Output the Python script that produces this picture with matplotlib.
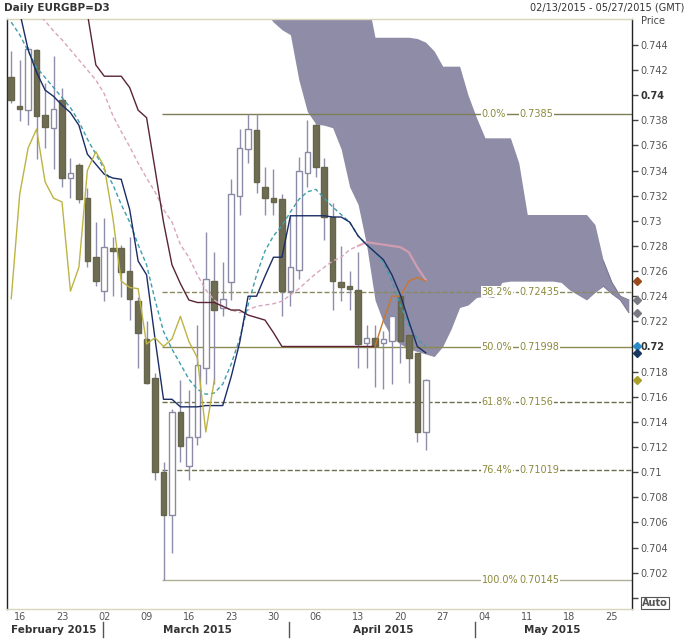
import matplotlib
matplotlib.use("Agg")
import matplotlib.pyplot as plt
import matplotlib.transforms as mtransforms
from matplotlib.patches import Rectangle
import numpy as np

# daily candles, one per trading day starting 02/13/2015 (index 0)
opens = [0.7414, 0.7391, 0.7388, 0.7436, 0.7384, 0.7374, 0.7396, 0.7334, 0.7344, 0.7318,
         0.7271, 0.7244, 0.7278, 0.7278, 0.7260, 0.7236, 0.7206, 0.7175, 0.7100, 0.7066,
         0.7148, 0.7105, 0.7128, 0.7183, 0.7252, 0.7231, 0.7251, 0.7320, 0.7357, 0.7372,
         0.7327, 0.7318, 0.7317, 0.7244, 0.7261, 0.7338, 0.7376, 0.7343, 0.7303, 0.7251,
         0.7248, 0.7245, 0.7203, 0.7207, 0.7203, 0.7204, 0.7240, 0.7209, 0.7195, 0.7132]
highs = [0.7435, 0.7428, 0.7438, 0.7437, 0.7410, 0.7431, 0.7406, 0.7350, 0.7346, 0.7326,
         0.7299, 0.7302, 0.7287, 0.7281, 0.7287, 0.7239, 0.7220, 0.7179, 0.7108, 0.7150,
         0.7173, 0.7165, 0.7217, 0.7291, 0.7275, 0.7267, 0.7333, 0.7373, 0.7385, 0.7385,
         0.7343, 0.7341, 0.7321, 0.7305, 0.7351, 0.7380, 0.7378, 0.7350, 0.7314, 0.7280,
         0.7260, 0.7275, 0.7217, 0.7217, 0.7212, 0.7230, 0.7244, 0.7209, 0.7195, 0.7174]
lows = [0.7394, 0.7379, 0.7376, 0.7349, 0.7358, 0.7341, 0.7327, 0.7318, 0.7314, 0.7263,
        0.7248, 0.7236, 0.7240, 0.7239, 0.7221, 0.7183, 0.7170, 0.7094, 0.70145, 0.7036,
        0.7108, 0.7094, 0.7122, 0.7170, 0.7170, 0.7224, 0.7237, 0.7305, 0.7346, 0.7322,
        0.7305, 0.7305, 0.7224, 0.7232, 0.7254, 0.7327, 0.7335, 0.7285, 0.7229, 0.7236,
        0.7229, 0.7183, 0.7183, 0.7168, 0.7166, 0.7170, 0.7187, 0.7171, 0.7124, 0.7118]
closes = [0.7396, 0.7389, 0.7437, 0.7383, 0.7375, 0.7389, 0.7334, 0.7338, 0.7317, 0.7268,
          0.7252, 0.7279, 0.7276, 0.7259, 0.7238, 0.7211, 0.7171, 0.7100, 0.7066, 0.7148,
          0.7121, 0.7128, 0.7185, 0.7254, 0.7229, 0.7238, 0.7321, 0.7358, 0.7373, 0.7331,
          0.7318, 0.7315, 0.7244, 0.7263, 0.7340, 0.7355, 0.7343, 0.7303, 0.7252, 0.7247,
          0.7246, 0.7202, 0.7207, 0.7200, 0.7206, 0.7224, 0.7204, 0.7191, 0.7132, 0.7173]

# indicator lines
tenkan = [0.7490, 0.7466, 0.7436, 0.7418, 0.7404, 0.7399, 0.7392, 0.7386, 0.7376, 0.7353,
          0.7345, 0.7337, 0.7334, 0.7333, 0.7309, 0.7268, 0.7257, 0.7206, 0.7158, 0.7158,
          0.7152, 0.7152, 0.7152, 0.7153, 0.7153, 0.7153, 0.7176, 0.7203, 0.7240, 0.7240,
          0.7256, 0.7271, 0.7271, 0.7304, 0.7304, 0.7304, 0.7304, 0.7304, 0.7303, 0.7303,
          0.7299, 0.7288, 0.7281, 0.7275, 0.7269, 0.7257, 0.7241, 0.7220, 0.7200, 0.7195]
ma_fast = [0.7458, 0.7448, 0.7435, 0.7422, 0.7414, 0.7406, 0.7398, 0.7390, 0.7379, 0.7365,
           0.7353, 0.7341, 0.7329, 0.7313, 0.7299, 0.7281, 0.7265, 0.7237, 0.7212, 0.7198,
           0.7186, 0.7174, 0.7166, 0.7162, 0.7163, 0.7170, 0.7186, 0.7206, 0.7233, 0.7257,
           0.7276, 0.7288, 0.7296, 0.7307, 0.7317, 0.7323, 0.7325, 0.7318, 0.7311, 0.7305,
           0.7299, 0.7288, 0.7281, 0.7275, 0.7267, 0.7252, 0.7233, 0.7217, 0.7206, 0.7200]
ma_slow = [0.7485, 0.7478, 0.7470, 0.7465, 0.7459, 0.7451, 0.7444, 0.7436, 0.7428, 0.7420,
           0.7412, 0.7401, 0.7384, 0.7371, 0.7359, 0.7346, 0.7334, 0.7323, 0.7309, 0.7299,
           0.7281, 0.7271, 0.7257, 0.7245, 0.7237, 0.7232, 0.7229, 0.7227, 0.7229, 0.7232,
           0.7233, 0.7234, 0.7236, 0.7241, 0.7246, 0.7252, 0.7258, 0.7263, 0.7268, 0.7271,
           0.7277, 0.7280, 0.7283, 0.7282, 0.7281, 0.7280, 0.7279, 0.7275, 0.7263, 0.7253]
kijun_start = 8
kijun = [0.7480, 0.7465, 0.7424, 0.7415, 0.7415, 0.7415, 0.7406, 0.7388, 0.7382, 0.7341,
         0.7299, 0.7265, 0.7250, 0.7237, 0.7235, 0.7235, 0.7235, 0.7232, 0.7229, 0.7229,
         0.7225, 0.7223, 0.7221, 0.7211, 0.7200, 0.7200, 0.7200, 0.7200, 0.7200, 0.7200,
         0.7200, 0.7200, 0.7200, 0.7200, 0.7200, 0.7200, 0.7221, 0.7240, 0.7240, 0.7252,
         0.7255, 0.7252]
kijun_turn = 43
chikou_lag = 25

# cloud, projected forward
cloud_start = 30
span_a = [0.7480] * 13 + [0.7446] * 5 + [0.7445, 0.7442, 0.7435] + [0.7423] * 3 + \
         [0.7400, 0.7382] + [0.7366] * 4 + [0.7346] + [0.7305] * 8 + \
         [0.7297, 0.7268, 0.7251, 0.7240, 0.7237]
span_b = [0.7466, 0.7458, 0.7452, 0.7448, 0.7412, 0.7387, 0.7377, 0.7376, 0.7374, 0.7357,
          0.7327, 0.7313, 0.7281, 0.7237, 0.7219, 0.7207, 0.7202, 0.7198, 0.7196, 0.7194,
          0.7192, 0.7200, 0.7214, 0.7231, 0.7233, 0.7239, 0.7240, 0.7239, 0.7251, 0.7252,
          0.7252, 0.7252, 0.7252, 0.7252, 0.7252, 0.7251, 0.7245, 0.7241, 0.7237, 0.7243,
          0.7248, 0.7242, 0.7237, 0.7227]

# fibonacci retracement from the low (index 18) to the high
fib_start = 18
fib_pct = ["0.0%", "38.2%", "50.0%", "61.8%", "76.4%", "100.0%"]
fib_val = [0.7385, 0.72435, 0.71998, 0.7156, 0.71019, 0.70145]
fib_txt = ["0.7385", "0.72435", "0.71998", "0.7156", "0.71019", "0.70145"]
fib_style = ["-", "--", "-", "--", "--", "-"]
fib_color = ["#7d7d5a", "#8a8a62", "#8c8a50", "#6e6e50", "#6e6e50", "#b0ae98"]

# axis labels
day_pos = [1, 6, 11, 16, 21, 26, 31, 36, 41, 46, 51, 56, 61, 66, 71]
day_lbl = ["16", "23", "02", "09", "16", "23", "30", "06", "13", "20", "27", "04", "11", "18", "25"]
month_pos = [5, 22, 44, 64]
month_lbl = ["February 2015", "March 2015", "April 2015", "May 2015"]
month_sep = [11, 33, 55]
price_ticks = np.round(np.arange(0.700, 0.7441, 0.002), 3)

W, H = 686, 640
fig = plt.figure(figsize=(W / 100, H / 100), dpi=100)
ax = fig.add_axes([7 / W, 1 - 609 / H, 625 / W, 590 / H])
ax.set_xlim(-0.5, 73.38)
ax.set_ylim(0.699118, 0.746052)

n = len(closes)
idx = np.arange(n)

# cloud
cx = np.arange(cloud_start, cloud_start + len(span_a))
sa, sb = np.array(span_a), np.array(span_b)
ax.fill_between(cx, np.minimum(sa, sb), np.maximum(sa, sb), color="#8e8ca6", lw=0, zorder=1)
ax.plot(cx[-4:], sa[-4:], color="#7e7c94", lw=0.8, zorder=1)
ax.plot(cx[-4:], sb[-4:], color="#7e7c94", lw=0.8, zorder=1)

# fib lines
for val, ls, col in zip(fib_val, fib_style, fib_color):
    ax.hlines(val, fib_start - 0.15, 73.38, colors=col, linestyles=ls, lw=1,
              zorder=2)
ax.vlines(fib_start - 0.15, fib_val[-1], lows[fib_start], colors="#b0ae98", lw=1, zorder=2)

# candles
for i in idx:
    o, h, l, c = opens[i], highs[i], lows[i], closes[i]
    ax.vlines(i, l, h, colors="#8e8eaa", lw=1, zorder=3)
    bottom = min(o, c)
    height = max(abs(c - o), 0.00012)
    if c >= o:
        rect = Rectangle((i - 0.33, bottom), 0.66, height, facecolor="white",
                         edgecolor="#8a8aa6", lw=1, zorder=3)
    else:
        rect = Rectangle((i - 0.33, bottom), 0.66, height, facecolor="#6e6c52",
                         edgecolor="#66644a", lw=1, zorder=3)
    ax.add_patch(rect)

# indicator lines
ax.plot(idx[:42], ma_slow[:42], color="#d9a5bf", lw=1, ls=(0, (3, 2)), zorder=4)
ax.plot(idx[41:], ma_slow[41:], color="#dca0b4", lw=1.6, alpha=0.85, zorder=4)
ax.plot(idx, ma_fast, color="#3f9eaa", lw=1, ls=(0, (3, 2)), zorder=4)
kx = np.arange(kijun_start, kijun_start + len(kijun))
kv = np.array(kijun)
cut = kijun_turn - kijun_start
ax.plot(kx[:cut + 1], kv[:cut + 1], color="#5a2434", lw=1, zorder=4)
ax.plot(kx[cut:], kv[cut:], color="#c8782e", lw=1, zorder=4)
ax.plot(idx, tenkan, color="#1b2d66", lw=1, zorder=4)
ax.plot(idx[:-chikou_lag], closes[chikou_lag:], color="#bdb443", lw=1, zorder=4)

# fib labels
for p, v, t in zip(fib_pct, fib_val, fib_txt):
    ax.text(55.6, v, p, fontsize=7, color="#8c8a3c", va="center", ha="left", zorder=5,
            bbox=dict(facecolor="white", edgecolor="none", pad=0.5))
    ax.text(60.1, v, t, fontsize=7, color="#8c8a3c", va="center", ha="left", zorder=5,
            bbox=dict(facecolor="white", edgecolor="none", pad=0.5))

# frame
for side in ["left", "right"]:
    ax.spines[side].set_color("#222222")
    ax.spines[side].set_linewidth(1)
for side in ["top", "bottom"]:
    ax.spines[side].set_color("#d8d6ba")
    ax.spines[side].set_linewidth(1)

ax.set_xticks([])
ax.yaxis.tick_right()
ax.set_yticks(price_ticks)
lbls = []
for t in price_ticks:
    lbls.append("" if abs(t - 0.700) < 1e-9 else ("%g" % t))
ax.set_yticklabels(lbls)
ax.tick_params(axis="y", direction="out", length=4, width=1, color="#444444",
               labelsize=7, labelcolor="#555555", pad=2)
for tl in ax.get_yticklabels():
    if tl.get_text() in ("0.74", "0.72"):
        tl.set_fontweight("bold")
        tl.set_color("#333333")

# last value markers on the price axis
trans = mtransforms.blended_transform_factory(ax.transAxes, ax.transData)
marks = [(kijun[-1], "#9a4a1c"), (span_a[-1], "#7a7a84"), (span_b[-1], "#7a7a84"),
         (ma_fast[-1], "#2a8cc6"), (tenkan[-1], "#173660"), (closes[-1], "#a8a02a")]
for v, col in marks:
    ax.plot(1.008, v, marker="D", ms=4, color=col, transform=trans, clip_on=False, zorder=6)

# date axis
tx = mtransforms.blended_transform_factory(ax.transData, ax.transAxes)
for p, l in zip(day_pos, day_lbl):
    ax.text(p, -0.0136, l, transform=tx, fontsize=7, color="#555555", ha="center", va="center")
for p, l in zip(month_pos, month_lbl):
    ax.text(p, -0.036, l, transform=tx, fontsize=7.5, color="#333333", ha="center",
            va="center", fontweight="bold")
for p in month_sep:
    ax.plot([p - 0.15, p - 0.15], [-0.022, -0.048], transform=tx, color="#555555", lw=1,
            clip_on=False)

# headings
fig.text(4 / W, 1 - 8 / H, "Daily EURGBP=D3", fontsize=7.5, fontweight="bold",
         color="#333333", ha="left", va="center")
fig.text(684 / W, 1 - 8 / H, "02/13/2015 - 05/27/2015 (GMT)", fontsize=7,
         color="#333333", ha="right", va="center")
fig.text(641 / W, 1 - 21 / H, "Price", fontsize=7, color="#444444", ha="left", va="center")
fig.text(642 / W, 1 - 603 / H, "Auto", fontsize=7, color="#555555", fontweight="bold",
         ha="left", va="center",
         bbox=dict(facecolor="white", edgecolor="#555555", pad=0.8, lw=0.8))

fig.savefig("out.png", dpi=100)
